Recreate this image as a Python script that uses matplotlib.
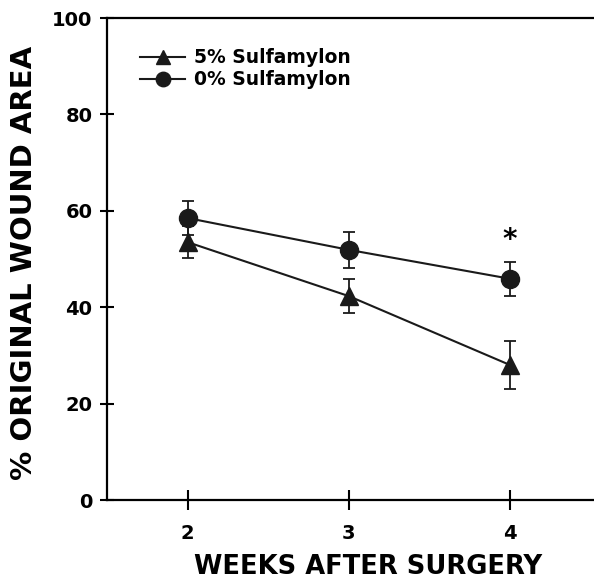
import matplotlib.pyplot as plt

plt.rcParams['font.family'] = ['DejaVu Sans']
plt.rcParams['font.weight'] = 'bold'

weeks = [2, 3, 4]
sulf5 = [53.5, 42.3, 28.0]
sulf5_err = [3.3, 3.6, 5.0]
sulf0 = [58.5, 51.9, 45.9]
sulf0_err = [3.6, 3.7, 3.5]
y_ticks = [0, 20, 40, 60, 80, 100]

fig = plt.figure(figsize=(5.94, 5.79), dpi=100)
ax = fig.add_axes([0.180, 0.1364, 0.820, 0.8325])

# error bars first, then the lines with markers on top
ax.errorbar(weeks, sulf5, yerr=sulf5_err, fmt='none', ecolor='#1a1a1a',
            elinewidth=1.3, capsize=4, capthick=1.3, zorder=2)
ax.errorbar(weeks, sulf0, yerr=sulf0_err, fmt='none', ecolor='#1a1a1a',
            elinewidth=1.3, capsize=4, capthick=1.3, zorder=2)
ax.plot(weeks, sulf5, color='#1a1a1a', marker='^', markersize=13, linewidth=1.5,
        label='5% Sulfamylon', zorder=3)
ax.plot(weeks, sulf0, color='#1a1a1a', marker='o', markersize=13, linewidth=1.5,
        label='0% Sulfamylon', zorder=3)

ax.text(4, 54, '*', ha='center', va='center', fontsize=20, fontweight='bold')

ax.set_xlim(1.5, 4.52)
ax.set_ylim(0, 100)
ax.set_xticks(weeks)
ax.set_yticks(y_ticks)
ax.tick_params(direction='inout', width=1.5, labelsize=14)
ax.tick_params(axis='y', length=10, pad=5.5)
ax.tick_params(axis='x', length=15, pad=10)

ax.spines['right'].set_visible(False)
for s in ['left', 'bottom', 'top']:
    ax.spines[s].set_linewidth(1.6)

fig.text(0.040, 0.546, '% ORIGINAL WOUND AREA', rotation=90, ha='center', va='center',
         fontsize=21, fontweight='bold')
fig.text(0.62, 0.021, 'WEEKS AFTER SURGERY', ha='center', va='center', fontsize=18.5, fontweight='bold')

leg = ax.legend(loc='upper left', bbox_to_anchor=(0.068, 0.937), frameon=False, fontsize=13.5,
                handlelength=2.4, handletextpad=0.5, labelspacing=0.15, markerscale=0.8,
                borderpad=0, borderaxespad=0)

plt.savefig('out.png', dpi=100)
